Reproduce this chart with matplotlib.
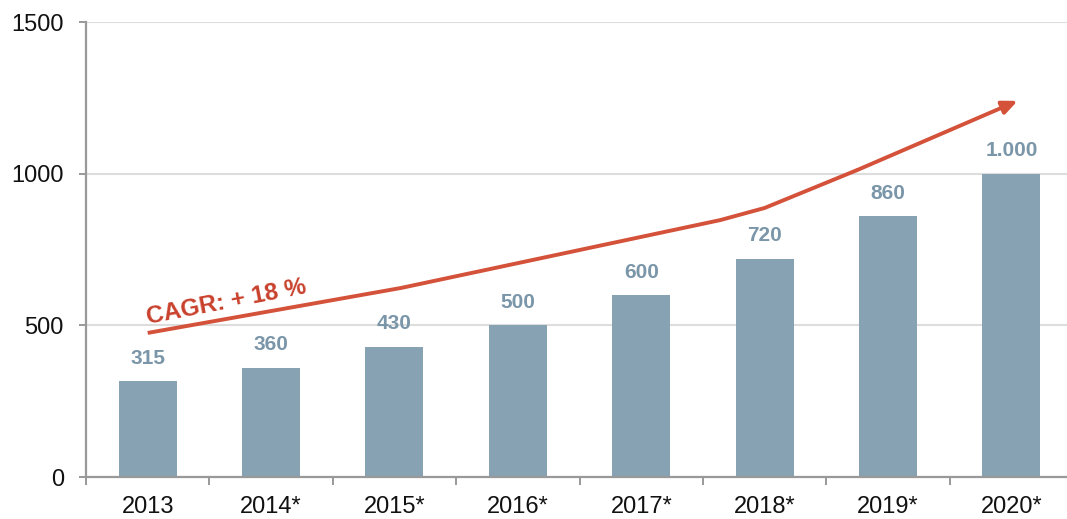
import matplotlib
matplotlib.use("Agg")
import matplotlib.pyplot as plt
import numpy as np

plt.rcParams["font.family"] = ["Liberation Sans", "DejaVu Sans"]

years = ["2013", "2014*", "2015*", "2016*", "2017*", "2018*", "2019*", "2020*"]
values = [315, 360, 430, 500, 600, 720, 860, 1000]
value_labels = ["315", "360", "430", "500", "600", "720", "860", "1.000"]

# hand-drawn growth arrow (in data units: category index, value)
trend_x = [0.0, 2.05, 4.64, 5.0, 5.75, 7.05]
trend_y = [475, 623, 847, 887, 1012, 1240]
trend_label = "CAGR: + 18 %"

bar_color = "#87a3b3"
label_color = "#7a96a8"
arrow_color = "#d4513a"
axis_color = "#999999"
grid_color = "#dddddd"

figure = plt.figure(figsize=(10.67, 5.19), dpi=100)
axis = figure.add_axes([0.0806, 0.0809, 0.9194, 0.8767])

x = np.arange(len(years))
axis.bar(x, values, width=0.47, color=bar_color, zorder=2)

for xi, v, lbl in zip(x, values, value_labels):
    axis.annotate(lbl, (xi, v), xytext=(0, 16.5), textcoords="offset points",
                  ha="center", va="center", fontsize=15, fontweight="bold",
                  color=label_color, zorder=3)

# trend arrow
axis.plot(trend_x[:-1], trend_y[:-1], color=arrow_color, linewidth=2.8,
          solid_capstyle="butt", zorder=4)
axis.annotate("", xy=(trend_x[-1], trend_y[-1]), xytext=(trend_x[-2], trend_y[-2]),
              arrowprops=dict(arrowstyle="-|>,head_length=0.9,head_width=0.4",
                              color=arrow_color, linewidth=2.8, shrinkA=0, shrinkB=0),
              zorder=4)
axis.text(0.0, 503, trend_label, rotation=11, rotation_mode="anchor",
          ha="left", va="baseline", fontsize=17.5, fontweight="bold",
          color="#c8412d", zorder=5)

axis.set_xlim(-0.5, 7.45)
axis.set_ylim(0, 1500)
axis.set_yticks([0, 500, 1000, 1500])
axis.set_xticks(x)
axis.set_xticklabels(years)
axis.set_xticks(np.arange(len(years)) - 0.5, minor=True)

axis.yaxis.grid(True, color=grid_color, linewidth=1.5, zorder=0)
axis.set_axisbelow(True)

for side in ["top", "right"]:
    axis.spines[side].set_visible(False)
for side in ["left", "bottom"]:
    axis.spines[side].set_color(axis_color)
    axis.spines[side].set_linewidth(1.6)

axis.tick_params(axis="y", length=5, width=1.4, color=axis_color, pad=11,
                 labelsize=17, labelcolor="#111111")
axis.tick_params(axis="x", which="major", length=0, pad=14,
                 labelsize=17, labelcolor="#111111")
axis.tick_params(axis="x", which="minor", length=6, width=1.4, color=axis_color)

figure.savefig("out.png", dpi=100)
